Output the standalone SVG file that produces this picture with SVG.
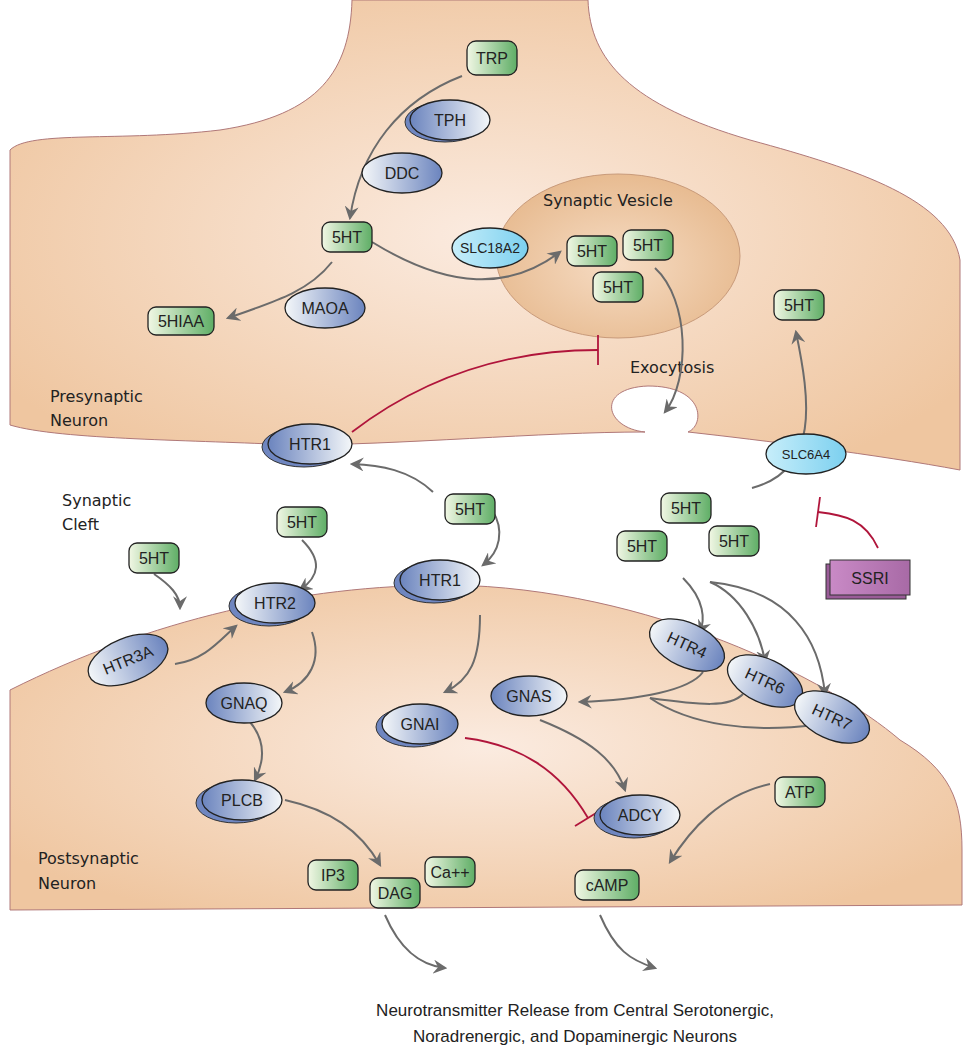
<svg xmlns="http://www.w3.org/2000/svg" width="971" height="1050" viewBox="0 0 971 1050">
<defs>
<radialGradient id="cell" cx="0.5" cy="0.5" r="0.6"><stop offset="0" stop-color="#fbebe0"/><stop offset="1" stop-color="#efc6a0"/></radialGradient>
<radialGradient id="ves" cx="0.5" cy="0.55" r="0.6"><stop offset="0" stop-color="#f6dcc4"/><stop offset="1" stop-color="#e6b88c"/></radialGradient>
<linearGradient id="gr" x1="0" x2="1"><stop offset="0" stop-color="#f1f7e4"/><stop offset="1" stop-color="#5fae66"/></linearGradient>
<linearGradient id="bl" x1="0" x2="1"><stop offset="0" stop-color="#f4f7f9"/><stop offset="1" stop-color="#6b84be"/></linearGradient>
<linearGradient id="bl2" x1="1" x2="0"><stop offset="0" stop-color="#f4f7f9"/><stop offset="1" stop-color="#6b84be"/></linearGradient>
<linearGradient id="cy" x1="0" x2="1"><stop offset="0" stop-color="#c7eefa"/><stop offset="1" stop-color="#7cd0ef"/></linearGradient>
<linearGradient id="pu" x1="0" x2="1"><stop offset="0" stop-color="#c98ac6"/><stop offset="1" stop-color="#a86aa6"/></linearGradient>
<marker id="ar2" viewBox="0 0 12 12" refX="10" refY="6" markerWidth="14" markerHeight="14" orient="auto" markerUnits="userSpaceOnUse"><path d="M0,0 L12,6 L0,12 L4,6 Z" fill="#6b6b6b"/></marker>
</defs>
<style>
.t{font-family:"Liberation Sans",Arial,sans-serif;font-size:16px;fill:#222;text-anchor:middle;dominant-baseline:central}
.lb{font-family:"DejaVu Sans",sans-serif;font-size:16px;fill:#222}
.g{fill:url(#gr);stroke:#222;stroke-width:1.3}
.b{fill:url(#bl);stroke:#222;stroke-width:1.3}
.bs{fill:#6f86c0;stroke:#333;stroke-width:1}
.c{fill:url(#cy);stroke:#222;stroke-width:1.3}
.e{fill:none;stroke:#6b6b6b;stroke-width:2;marker-end:url(#ar2)}
.i{fill:none;stroke:#b0153b;stroke-width:1.8}
</style>
<rect width="971" height="1050" fill="#fff"/>
<g id="presynaptic">
<path d="M352,0 C350,70 320,115 220,130 C120,142 30,130 10,150 L10,425 C60,440 200,440 290,445 C400,445 540,432 645,432 C605,428 595,388 648,386 C705,386 705,425 688,432 C760,440 880,455 960,470 L960,260 C950,200 860,170 750,140 C630,105 590,60 588,0 Z" fill="url(#cell)" stroke="#b07878" stroke-width="1"/>
<ellipse cx="618" cy="256" rx="122" ry="82" fill="url(#ves)" stroke="#c89a7a" stroke-width="1"/>
</g>
<g id="postsynaptic">
<path d="M10,690 C150,620 300,585 450,585 C650,588 830,680 900,740 C950,770 962,800 962,850 L962,905 L10,910 Z" fill="url(#cell)" stroke="#b07878" stroke-width="1"/>
</g>
<g id="labels">
<text class="lb" x="543" y="206">Synaptic Vesicle</text>
<text class="lb" x="630" y="373">Exocytosis</text>
<text class="lb" x="50" y="402">Presynaptic</text><text class="lb" x="50" y="426">Neuron</text>
<text class="lb" x="62" y="506">Synaptic</text><text class="lb" x="62" y="530">Cleft</text>
<text class="lb" x="38" y="864">Postsynaptic</text><text class="lb" x="38" y="889">Neuron</text>
<text class="t" x="575" y="1010" style="font-size:17px">Neurotransmitter Release from Central Serotonergic,</text>
<text class="t" x="575" y="1036" style="font-size:17px">Noradrenergic, and Dopaminergic Neurons</text>
</g>
<g id="connectors">
<path class="e" d="M462,76 C400,100 360,150 350,218"/>
<path class="e" d="M372,242 C450,290 510,290 560,252"/>
<path class="e" d="M332,262 C310,290 280,300 228,318"/>
<path class="e" d="M655,268 C690,300 690,380 665,412"/>
<path class="e" d="M752,488 C820,470 810,400 796,332"/>
<path class="e" d="M433,492 C410,470 380,465 352,464"/>
<path class="e" d="M492,510 C505,530 500,552 483,565"/>
<path class="e" d="M302,540 C322,560 320,576 300,590"/>
<path class="e" d="M154,574 C170,585 180,595 180,608"/>
<path class="e" d="M175,664 C205,660 220,640 236,626"/>
<path class="e" d="M312,632 C322,660 310,682 285,692"/>
<path class="e" d="M250,722 C265,740 265,760 255,780"/>
<path class="e" d="M285,800 C330,810 360,830 380,865"/>
<path class="e" d="M480,615 C480,660 470,680 445,692"/>
<path class="e" d="M540,720 C590,740 615,760 625,790"/>
<path class="e" d="M770,784 C720,795 690,830 670,862"/>
<path class="e" d="M683,578 C705,600 705,620 700,632"/>
<path class="e" d="M710,582 C740,595 760,630 765,662"/>
<path class="e" d="M710,582 C790,590 820,640 825,695"/>
<path class="e" d="M703,672 C690,690 640,700 580,702"/>
<path d="M743,694 C730,708 700,705 650,698" fill="none" stroke="#6b6b6b" stroke-width="2"/>
<path d="M815,725 C750,733 690,725 650,698" fill="none" stroke="#6b6b6b" stroke-width="2"/>
<path class="e" d="M385,915 C400,950 420,965 445,968"/>
<path class="e" d="M600,915 C615,950 630,960 655,968"/>
<path class="i" d="M352,432 C420,380 500,350 598,350"/><path class="i" d="M598,335 L598,365" stroke-width="3"/>
<path class="i" d="M878,548 C865,520 845,515 818,512"/><path class="i" d="M820,497 L816,527" stroke-width="3"/>
<path class="i" d="M465,738 C520,745 560,770 588,818"/><path class="i" d="M575,826 L601,810" stroke-width="3"/>
</g>
<g id="n-TRP"><rect class="g" x="467" y="41" width="50" height="34" rx="9"/><text class="t" x="492" y="58">TRP</text></g>
<g id="n-TPH"><ellipse class="bs" cx="445" cy="122" rx="40" ry="20"/><ellipse class="b" cx="450" cy="120" rx="40" ry="20" style="fill:url(#bl2)"/><text class="t" x="450" y="120">TPH</text></g>
<g id="n-DDC"><ellipse class="b" cx="402" cy="173" rx="40" ry="20"/><text class="t" x="402" y="173">DDC</text></g>
<g id="n-5HT1"><rect class="g" x="322" y="222" width="50" height="30" rx="8"/><text class="t" x="347" y="237">5HT</text></g>
<g id="n-SLC18A2"><ellipse class="c" cx="490" cy="248" rx="38" ry="20"/><text class="t" x="490" y="248" style="font-size:14px">SLC18A2</text></g>
<g id="n-5HTv1"><rect class="g" x="567" y="236" width="50" height="30" rx="8"/><text class="t" x="592" y="251">5HT</text></g>
<g id="n-5HTv2"><rect class="g" x="623" y="230" width="50" height="30" rx="8"/><text class="t" x="648" y="245">5HT</text></g>
<g id="n-5HTv3"><rect class="g" x="593" y="272" width="50" height="30" rx="8"/><text class="t" x="618" y="287">5HT</text></g>
<g id="n-MAOA"><ellipse class="b" cx="325" cy="308" rx="40" ry="20"/><text class="t" x="325" y="308">MAOA</text></g>
<g id="n-5HIAA"><rect class="g" x="148" y="307" width="66" height="28" rx="8"/><text class="t" x="181" y="321">5HIAA</text></g>
<g id="n-5HTr"><rect class="g" x="774" y="290" width="50" height="30" rx="8"/><text class="t" x="799" y="305">5HT</text></g>
<g id="n-HTR1a"><ellipse class="bs" cx="304" cy="447" rx="42" ry="20"/><ellipse class="b" cx="310" cy="444" rx="42" ry="20" style="fill:url(#bl2)"/><text class="t" x="310" y="444">HTR1</text></g>
<g id="n-SLC6A4"><ellipse class="c" cx="806" cy="454" rx="40" ry="20"/><text class="t" x="806" y="454" style="font-size:13px">SLC6A4</text></g>
<g id="n-5HTc1"><rect class="g" x="445" y="494" width="50" height="30" rx="8"/><text class="t" x="470" y="509">5HT</text></g>
<g id="n-5HTc2"><rect class="g" x="277" y="507" width="50" height="30" rx="8"/><text class="t" x="302" y="522">5HT</text></g>
<g id="n-5HTc3"><rect class="g" x="129" y="543" width="50" height="30" rx="8"/><text class="t" x="154" y="558">5HT</text></g>
<g id="n-5HTc4"><rect class="g" x="661" y="493" width="50" height="30" rx="8"/><text class="t" x="686" y="508">5HT</text></g>
<g id="n-5HTc5"><rect class="g" x="617" y="531" width="50" height="30" rx="8"/><text class="t" x="642" y="546">5HT</text></g>
<g id="n-5HTc6"><rect class="g" x="709" y="526" width="50" height="30" rx="8"/><text class="t" x="734" y="541">5HT</text></g>
<g id="n-SSRI"><rect x="826" y="564" width="80" height="35" fill="#9a5c98" stroke="#333"/><rect x="830" y="560" width="80" height="35" fill="url(#pu)" stroke="#333"/><text class="t" x="870" y="578">SSRI</text></g>
<g id="n-HTR1b"><ellipse class="bs" cx="434" cy="583" rx="40" ry="20"/><ellipse class="b" cx="440" cy="580" rx="40" ry="20" style="fill:url(#bl2)"/><text class="t" x="440" y="580">HTR1</text></g>
<g id="n-HTR2"><ellipse class="bs" cx="269" cy="606" rx="40" ry="20"/><ellipse class="b" cx="275" cy="603" rx="40" ry="20"/><text class="t" x="275" y="603">HTR2</text></g>
<g id="n-HTR3A" transform="rotate(-22 128 660)"><ellipse class="b" cx="128" cy="660" rx="42" ry="22"/><text class="t" x="128" y="660">HTR3A</text></g>
<g id="n-HTR4" transform="rotate(25 687 645)"><ellipse class="b" cx="687" cy="645" rx="40" ry="22"/><text class="t" x="687" y="645">HTR4</text></g>
<g id="n-HTR6" transform="rotate(25 765 681)"><ellipse class="b" cx="765" cy="681" rx="40" ry="22"/><text class="t" x="765" y="681">HTR6</text></g>
<g id="n-HTR7" transform="rotate(25 832 717)"><ellipse class="b" cx="832" cy="717" rx="40" ry="22"/><text class="t" x="832" y="717">HTR7</text></g>
<g id="n-GNAQ"><ellipse class="b" cx="244" cy="703" rx="38" ry="20" style="fill:url(#bl2)"/><text class="t" x="244" y="703">GNAQ</text></g>
<g id="n-GNAI"><ellipse class="bs" cx="414" cy="727" rx="38" ry="20"/><ellipse class="b" cx="420" cy="724" rx="38" ry="20"/><text class="t" x="420" y="724">GNAI</text></g>
<g id="n-GNAS"><ellipse class="b" cx="529" cy="696" rx="38" ry="20" style="fill:url(#bl2)"/><text class="t" x="529" y="696">GNAS</text></g>
<g id="n-PLCB"><ellipse class="bs" cx="236" cy="803" rx="40" ry="20"/><ellipse class="b" cx="242" cy="800" rx="40" ry="20" style="fill:url(#bl2)"/><text class="t" x="242" y="800">PLCB</text></g>
<g id="n-ADCY"><ellipse class="bs" cx="634" cy="818" rx="40" ry="20"/><ellipse class="b" cx="640" cy="815" rx="40" ry="20" style="fill:url(#bl2)"/><text class="t" x="640" y="815">ADCY</text></g>
<g id="n-ATP"><rect class="g" x="775" y="777" width="50" height="30" rx="8"/><text class="t" x="800" y="792">ATP</text></g>
<g id="n-IP3"><rect class="g" x="308" y="860" width="50" height="30" rx="8"/><text class="t" x="333" y="875">IP3</text></g>
<g id="n-DAG"><rect class="g" x="370" y="878" width="50" height="30" rx="8"/><text class="t" x="395" y="893">DAG</text></g>
<g id="n-Ca"><rect class="g" x="425" y="857" width="50" height="30" rx="8"/><text class="t" x="450" y="872">Ca++</text></g>
<g id="n-cAMP"><rect class="g" x="575" y="870" width="64" height="30" rx="8"/><text class="t" x="607" y="885">cAMP</text></g>
</svg>
